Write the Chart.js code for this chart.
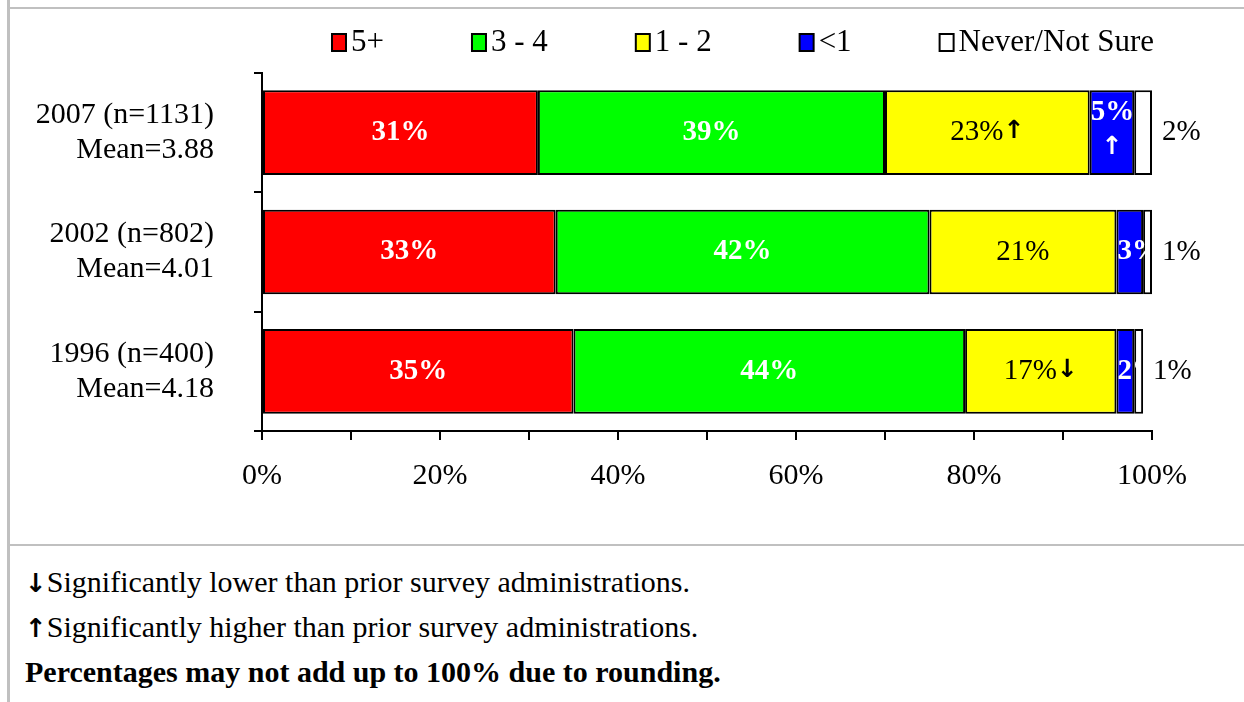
<!DOCTYPE html>
<html>
<head>
<meta charset="utf-8">
<script src="https://cdn.jsdelivr.net/npm/chart.js@4"></script>
<style>
	body { margin: 0; background: #fff; font-family: "Liberation Serif", "Times New Roman", serif; }
	.rule { position: absolute; background: #c0c0c0; }
	#chartBox { position: absolute; left: 10px; top: 9px; width: 1234px; height: 535px; }
	#notes { position: absolute; left: 25px; top: 560px; font-size: 30px; line-height: 44px; color: #000; }
	.arrow { font-family: "DejaVu Sans", sans-serif; font-weight: bold; font-size: 26px; }
</style>
</head>
<body>
<div class="rule" style="left:7px;top:0;width:3px;height:702px"></div>
<div class="rule" style="left:10px;top:7px;width:1234px;height:2px"></div>
<div class="rule" style="left:10px;top:544px;width:1234px;height:2px"></div>
<div id="chartBox"><canvas id="chartRecall" width="1234" height="535"></canvas></div>
<div id="notes">
	<div><span class="arrow">↓</span>Significantly lower than prior survey administrations.</div>
	<div><span class="arrow">↑</span>Significantly higher than prior survey administrations.</div>
	<div><b>Percentages may not add up to 100% due to rounding.</b></div>
</div>
<script>
'use strict'

const years = [['2007 (n=1131)', 'Mean=3.88'], ['2002 (n=802)', 'Mean=4.01'], ['1996 (n=400)', 'Mean=4.18']];
const seriesNames = ['5+', '3 - 4', '1 - 2', '<1', 'Never/Not Sure'];
const fivePlus = [31, 33, 35];
const threeToFour = [39, 42, 44];
const oneToTwo = [23, 21, 17];
const lessThanOne = [5, 3, 2];
const neverNotSure = [2, 1, 1];
const oneToTwoFlags = ['↑', '', '↓'];
const lessThanOneFlags = ['↑', '', ''];
const xTickLabels = [0, 20, 40, 60, 80, 100];

const serif = '"Liberation Serif", "Times New Roman", serif';
const arrowFont = 'bold 25px "DejaVu Sans", sans-serif';

// legend drawn by hand so the gaps between items stay wide
const boxLegend = {
	id: 'boxLegend',
	afterDraw(chart) {
		const ctx = chart.ctx;
		ctx.save();
		ctx.font = '31px ' + serif;
		ctx.textBaseline = 'middle';
		ctx.textAlign = 'left';
		let x = chart.chartArea.left + 70;
		const y = 33;
		chart.data.datasets.forEach(function (ds) {
			ctx.fillStyle = ds.backgroundColor;
			ctx.fillRect(x, y - 8, 14, 17);
			ctx.lineWidth = 2;
			ctx.strokeStyle = '#000';
			ctx.strokeRect(x, y - 8, 14, 17);
			ctx.fillStyle = '#000';
			ctx.fillText(ds.label, x + 19, y + 1);
			x += 19 + ctx.measureText(ds.label).width + 88;
		});
		ctx.restore();
	},
};

const barLabels = {
	id: 'barLabels',
	afterDatasetsDraw(chart) {
		const ctx = chart.ctx;
		ctx.save();
		ctx.textBaseline = 'middle';
		chart.data.datasets.forEach(function (ds, i) {
			chart.getDatasetMeta(i).data.forEach(function (bar, j) {
				const text = ds.data[j] + '%';
				const flag = ds.flags ? ds.flags[j] : '';
				const cx = (bar.x + bar.base) / 2;
				const cy = bar.y;
				ctx.fillStyle = ds.labelColor;
				if (ds.labelMode === 'inside') {
					ctx.font = ds.labelWeight + ' 29px ' + serif;
					const w1 = ctx.measureText(text).width;
					ctx.font = arrowFont;
					const w2 = flag ? ctx.measureText(flag).width : 0;
					let start = cx - (w1 + w2) / 2;
					ctx.textAlign = 'left';
					ctx.font = ds.labelWeight + ' 29px ' + serif;
					ctx.fillText(text, start, cy);
					if (flag) {
						ctx.font = arrowFont;
						ctx.fillText(flag, start + w1, cy - 1);
					}
				} else if (ds.labelMode === 'narrow') {
					ctx.save();
					ctx.beginPath();
					ctx.rect(bar.base, cy - 50, bar.x - bar.base + 4, 100);
					ctx.clip();
					ctx.textAlign = 'left';
					ctx.font = 'bold 29px ' + serif;
					const w = ctx.measureText(text).width;
					const start = Math.max(bar.base + 1, cx - w / 2);
					if (flag) {
						ctx.fillText(text, start, cy - 20);
						ctx.font = arrowFont;
						ctx.textAlign = 'center';
						ctx.fillText(flag, cx, cy + 15);
					} else {
						ctx.fillText(text, start, cy);
					}
					ctx.restore();
				} else {
					ctx.textAlign = 'left';
					ctx.font = '29px ' + serif;
					ctx.fillText(text, bar.x + 10, cy);
				}
			});
		});
		ctx.restore();
	},
};

const barStyle = {
	borderColor: '#000',
	borderWidth: 2,
	borderSkipped: false,
	barPercentage: 0.71,
	categoryPercentage: 1,
};

const dataCharts = {
	labels: years,
	datasets: [
		Object.assign({ label: seriesNames[0], data: fivePlus, backgroundColor: '#FF0000', labelMode: 'inside', labelColor: '#fff', labelWeight: 'bold' }, barStyle),
		Object.assign({ label: seriesNames[1], data: threeToFour, backgroundColor: '#00FF00', labelMode: 'inside', labelColor: '#fff', labelWeight: 'bold' }, barStyle),
		Object.assign({ label: seriesNames[2], data: oneToTwo, flags: oneToTwoFlags, backgroundColor: '#FFFF00', labelMode: 'inside', labelColor: '#000', labelWeight: 'normal' }, barStyle),
		Object.assign({ label: seriesNames[3], data: lessThanOne, flags: lessThanOneFlags, backgroundColor: '#0000FF', labelMode: 'narrow', labelColor: '#fff' }, barStyle),
		Object.assign({ label: seriesNames[4], data: neverNotSure, backgroundColor: '#FFFFFF', labelMode: 'outside', labelColor: '#000' }, barStyle),
	],
};

let chartRecall = new Chart(document.getElementById('chartRecall'), {
	type: 'bar',
	data: dataCharts,
	plugins: [barLabels, boxLegend],
	options: {
		indexAxis: 'y',
		responsive: false,
		animation: false,
		devicePixelRatio: 1,
		layout: {
			padding: { top: 64, right: 92, left: 0, bottom: 0 },
		},
		plugins: {
			legend: { display: false },
			tooltip: { enabled: false },
		},
		scales: {
			x: {
				stacked: true,
				min: 0,
				max: 100,
				afterFit: function (scale) { scale.height = 113; },
				ticks: {
					stepSize: 10,
					autoSkip: false,
					maxRotation: 0,
					padding: 18,
					color: '#000',
					font: { family: serif, size: 30 },
					callback: function (value) {
						return xTickLabels.includes(value) ? value + '%' : '';
					},
				},
				grid: {
					drawOnChartArea: false,
					tickLength: 9,
					color: '#000',
					lineWidth: 2,
				},
				border: { color: '#000', width: 2 },
			},
			y: {
				stacked: true,
				afterFit: function (scale) {
					scale.width = 252;
					// labels sit in the bands, no need for extra room above/below
					scale.paddingTop = 0;
					scale.paddingBottom = 0;
				},
				ticks: {
					padding: 40,
					color: '#000',
					font: { family: serif, size: 30, lineHeight: 1.17 },
				},
				grid: {
					drawOnChartArea: false,
					offset: true,
					tickLength: 8,
					color: '#000',
					lineWidth: 2,
				},
				border: { color: '#000', width: 2 },
			},
		},
	},
});
</script>
</body>
</html>
